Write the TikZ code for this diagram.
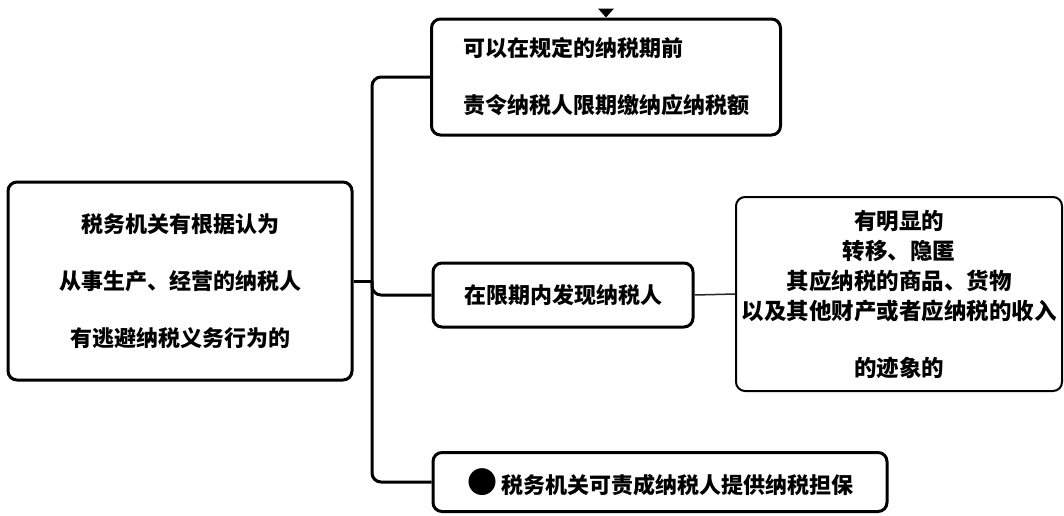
\documentclass[tikz,border=0pt]{standalone}
\usepackage{fontspec}
\setmainfont{Noto Sans CJK SC}
\definecolor{linegray}{rgb}{0.15,0.15,0.15}

\begin{document}
\begin{tikzpicture}[x=1pt, y=-1pt,
        box/.style={draw=black, line width=3pt, rounded corners=9pt, inner sep=2pt,
            font=\fontsize{22}{57}\selectfont\bfseries},
        thinbox/.style={draw=black, line width=2pt, rounded corners=9pt, inner sep=1pt,
            font=\fontsize{22.5}{30}\selectfont\bfseries},
        branch/.style={line width=3pt, rounded corners=9pt}]
        \useasboundingbox (0,0) rectangle (1064,515);

        \node[box, minimum width=344pt, minimum height=198pt, align=center] (root) at (180,281) {税务机关有根据认为\\从事生产、经营的纳税人\\有逃避纳税义务行为的};
        \node[box, minimum width=349pt, minimum height=116pt, align=left] (limit) at (606,77) {可以在规定的纳税期前\\责令纳税人限期缴纳应纳税额};
        \node[box, minimum width=260pt, minimum height=64pt] (found) at (563,295) {在限期内发现纳税人};
        \node[thinbox, minimum width=326pt, minimum height=194pt, align=center] (signs) at (899,294) {有明显的\\转移、隐匿\\其应纳税的商品、货物\\以及其他财产或者应纳税的收入\\[27pt]的迹象的};
        \node[box, minimum width=454pt, minimum height=59pt] (bond) at (660,482) {{\fontsize{30}{30}\selectfont ●}\hspace{4pt}税务机关可责成纳税人提供纳税担保};

        \coordinate (hub) at (372,281);
        \draw[branch] (limit.west) -| (hub) |- (bond.west);
        \draw[branch] (root.east) -- (hub);
        \draw[branch] (hub) |- (found.west);
        \draw[line width=1.5pt, linegray] (found.east) -- (signs.west);

        \fill ([xshift=-8pt, yshift=9pt]limit.north) -- ([xshift=8pt, yshift=9pt]limit.north) -- (limit.north) -- cycle;
    \end{tikzpicture}
\end{document}
